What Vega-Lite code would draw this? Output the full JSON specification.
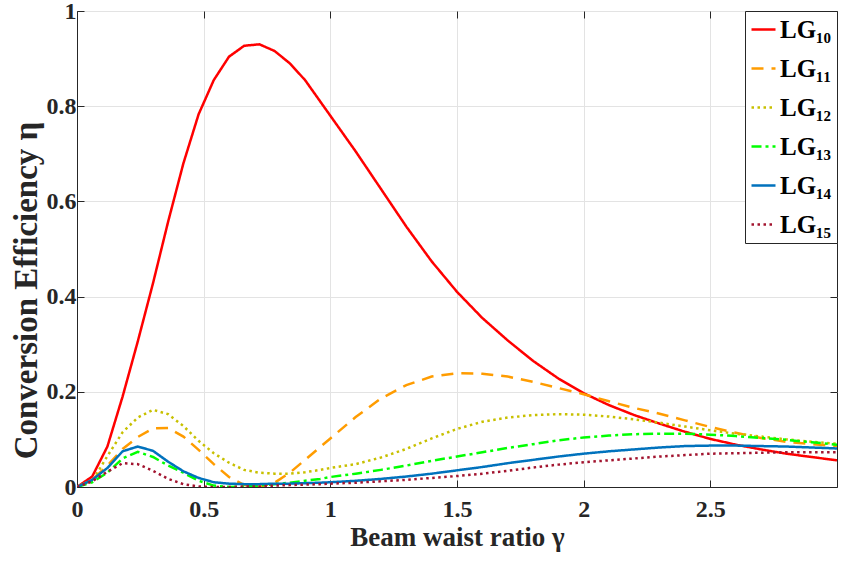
{
  "$schema": "https://vega.github.io/schema/vega-lite/v6.json",
  "width": 760,
  "height": 476,
  "autosize": {"type": "none"},
  "padding": {"left": 77, "top": 11, "right": 4, "bottom": 74},
  "background": "white",
  "config": {
    "font": "Liberation Serif",
    "view": {"stroke": "#262626", "strokeWidth": 1},
    "axis": {
      "labelFont": "Liberation Serif", "labelFontSize": 24, "labelFontWeight": "bold", "labelColor": "#262626",
      "titleFont": "Liberation Serif", "titleFontSize": 27, "titleFontWeight": "bold", "titleColor": "#262626",
      "domainColor": "#262626", "tickColor": "#262626", "tickSize": -7, "gridColor": "#e3e3e3", "gridWidth": 1
    },
    "legend": {
      "orient": "top-right", "offset": 0, "strokeColor": "#262626", "fillColor": "white", "padding": 5,
      "symbolType": "stroke", "symbolSize": 576, "symbolStrokeWidth": 2.5,
      "labelFont": "Liberation Serif", "labelFontSize": 25, "labelFontWeight": "bold", "labelColor": "#000000",
      "rowPadding": 12, "labelOffset": 3
    }
  },
  "data": {"values": [
    {"x":0,"s":"LG₁₀","y":0},{"x":0.06,"s":"LG₁₀","y":0.022},{"x":0.12,"s":"LG₁₀","y":0.085},{"x":0.18,"s":"LG₁₀","y":0.19},{"x":0.24,"s":"LG₁₀","y":0.306},{"x":0.3,"s":"LG₁₀","y":0.428},{"x":0.36,"s":"LG₁₀","y":0.558},{"x":0.42,"s":"LG₁₀","y":0.68},{"x":0.48,"s":"LG₁₀","y":0.783},{"x":0.54,"s":"LG₁₀","y":0.855},{"x":0.6,"s":"LG₁₀","y":0.904},{"x":0.66,"s":"LG₁₀","y":0.927},{"x":0.72,"s":"LG₁₀","y":0.93},{"x":0.78,"s":"LG₁₀","y":0.916},{"x":0.84,"s":"LG₁₀","y":0.89},{"x":0.9,"s":"LG₁₀","y":0.855},{"x":0.96,"s":"LG₁₀","y":0.81},{"x":1.0,"s":"LG₁₀","y":0.78},{"x":1.1,"s":"LG₁₀","y":0.705},{"x":1.2,"s":"LG₁₀","y":0.626},{"x":1.3,"s":"LG₁₀","y":0.547},{"x":1.4,"s":"LG₁₀","y":0.474},{"x":1.5,"s":"LG₁₀","y":0.41},{"x":1.6,"s":"LG₁₀","y":0.355},{"x":1.7,"s":"LG₁₀","y":0.308},{"x":1.8,"s":"LG₁₀","y":0.265},{"x":1.9,"s":"LG₁₀","y":0.228},{"x":2.0,"s":"LG₁₀","y":0.197},{"x":2.1,"s":"LG₁₀","y":0.172},{"x":2.2,"s":"LG₁₀","y":0.151},{"x":2.3,"s":"LG₁₀","y":0.133},{"x":2.4,"s":"LG₁₀","y":0.116},{"x":2.5,"s":"LG₁₀","y":0.101},{"x":2.6,"s":"LG₁₀","y":0.089},{"x":2.7,"s":"LG₁₀","y":0.079},{"x":2.8,"s":"LG₁₀","y":0.07},{"x":2.9,"s":"LG₁₀","y":0.063},{"x":3.0,"s":"LG₁₀","y":0.056},

    {"x":0,"s":"LG₁₁","y":0},{"x":0.06,"s":"LG₁₁","y":0.015},{"x":0.12,"s":"LG₁₁","y":0.045},{"x":0.18,"s":"LG₁₁","y":0.08},{"x":0.24,"s":"LG₁₁","y":0.105},{"x":0.3,"s":"LG₁₁","y":0.123},{"x":0.36,"s":"LG₁₁","y":0.124},{"x":0.42,"s":"LG₁₁","y":0.106},{"x":0.48,"s":"LG₁₁","y":0.078},{"x":0.54,"s":"LG₁₁","y":0.048},{"x":0.6,"s":"LG₁₁","y":0.021},{"x":0.66,"s":"LG₁₁","y":0.004},{"x":0.72,"s":"LG₁₁","y":0},{"x":0.78,"s":"LG₁₁","y":0.009},{"x":0.84,"s":"LG₁₁","y":0.03},{"x":0.9,"s":"LG₁₁","y":0.057},{"x":0.96,"s":"LG₁₁","y":0.084},{"x":1.0,"s":"LG₁₁","y":0.102},{"x":1.1,"s":"LG₁₁","y":0.147},{"x":1.2,"s":"LG₁₁","y":0.186},{"x":1.3,"s":"LG₁₁","y":0.214},{"x":1.4,"s":"LG₁₁","y":0.232},{"x":1.5,"s":"LG₁₁","y":0.239},{"x":1.6,"s":"LG₁₁","y":0.238},{"x":1.7,"s":"LG₁₁","y":0.232},{"x":1.8,"s":"LG₁₁","y":0.221},{"x":1.9,"s":"LG₁₁","y":0.208},{"x":2.0,"s":"LG₁₁","y":0.195},{"x":2.1,"s":"LG₁₁","y":0.18},{"x":2.2,"s":"LG₁₁","y":0.166},{"x":2.3,"s":"LG₁₁","y":0.154},{"x":2.4,"s":"LG₁₁","y":0.14},{"x":2.5,"s":"LG₁₁","y":0.126},{"x":2.6,"s":"LG₁₁","y":0.114},{"x":2.7,"s":"LG₁₁","y":0.103},{"x":2.8,"s":"LG₁₁","y":0.095},{"x":2.9,"s":"LG₁₁","y":0.09},{"x":3.0,"s":"LG₁₁","y":0.086},

    {"x":0,"s":"LG₁₂","y":0},{"x":0.06,"s":"LG₁₂","y":0.012},{"x":0.12,"s":"LG₁₂","y":0.065},{"x":0.18,"s":"LG₁₂","y":0.115},{"x":0.24,"s":"LG₁₂","y":0.146},{"x":0.3,"s":"LG₁₂","y":0.162},{"x":0.36,"s":"LG₁₂","y":0.153},{"x":0.42,"s":"LG₁₂","y":0.128},{"x":0.48,"s":"LG₁₂","y":0.097},{"x":0.54,"s":"LG₁₂","y":0.071},{"x":0.6,"s":"LG₁₂","y":0.051},{"x":0.66,"s":"LG₁₂","y":0.036},{"x":0.72,"s":"LG₁₂","y":0.03},{"x":0.78,"s":"LG₁₂","y":0.028},{"x":0.84,"s":"LG₁₂","y":0.028},{"x":0.9,"s":"LG₁₂","y":0.031},{"x":0.96,"s":"LG₁₂","y":0.036},{"x":1.0,"s":"LG₁₂","y":0.04},{"x":1.1,"s":"LG₁₂","y":0.048},{"x":1.2,"s":"LG₁₂","y":0.062},{"x":1.3,"s":"LG₁₂","y":0.08},{"x":1.4,"s":"LG₁₂","y":0.102},{"x":1.5,"s":"LG₁₂","y":0.122},{"x":1.6,"s":"LG₁₂","y":0.137},{"x":1.7,"s":"LG₁₂","y":0.146},{"x":1.8,"s":"LG₁₂","y":0.151},{"x":1.9,"s":"LG₁₂","y":0.153},{"x":2.0,"s":"LG₁₂","y":0.152},{"x":2.1,"s":"LG₁₂","y":0.148},{"x":2.2,"s":"LG₁₂","y":0.142},{"x":2.3,"s":"LG₁₂","y":0.135},{"x":2.4,"s":"LG₁₂","y":0.127},{"x":2.5,"s":"LG₁₂","y":0.119},{"x":2.6,"s":"LG₁₂","y":0.112},{"x":2.7,"s":"LG₁₂","y":0.106},{"x":2.8,"s":"LG₁₂","y":0.1},{"x":2.9,"s":"LG₁₂","y":0.095},{"x":3.0,"s":"LG₁₂","y":0.091},

    {"x":0,"s":"LG₁₃","y":0},{"x":0.06,"s":"LG₁₃","y":0.01},{"x":0.12,"s":"LG₁₃","y":0.03},{"x":0.18,"s":"LG₁₃","y":0.06},{"x":0.24,"s":"LG₁₃","y":0.074},{"x":0.3,"s":"LG₁₃","y":0.063},{"x":0.36,"s":"LG₁₃","y":0.045},{"x":0.42,"s":"LG₁₃","y":0.03},{"x":0.48,"s":"LG₁₃","y":0.013},{"x":0.54,"s":"LG₁₃","y":0.003},{"x":0.6,"s":"LG₁₃","y":0},{"x":0.66,"s":"LG₁₃","y":0.001},{"x":0.72,"s":"LG₁₃","y":0.003},{"x":0.78,"s":"LG₁₃","y":0.006},{"x":0.84,"s":"LG₁₃","y":0.009},{"x":0.9,"s":"LG₁₃","y":0.013},{"x":0.96,"s":"LG₁₃","y":0.017},{"x":1.0,"s":"LG₁₃","y":0.021},{"x":1.1,"s":"LG₁₃","y":0.028},{"x":1.2,"s":"LG₁₃","y":0.036},{"x":1.3,"s":"LG₁₃","y":0.045},{"x":1.4,"s":"LG₁₃","y":0.055},{"x":1.5,"s":"LG₁₃","y":0.064},{"x":1.6,"s":"LG₁₃","y":0.073},{"x":1.7,"s":"LG₁₃","y":0.082},{"x":1.8,"s":"LG₁₃","y":0.09},{"x":1.9,"s":"LG₁₃","y":0.098},{"x":2.0,"s":"LG₁₃","y":0.104},{"x":2.1,"s":"LG₁₃","y":0.108},{"x":2.2,"s":"LG₁₃","y":0.111},{"x":2.3,"s":"LG₁₃","y":0.112},{"x":2.4,"s":"LG₁₃","y":0.112},{"x":2.5,"s":"LG₁₃","y":0.11},{"x":2.6,"s":"LG₁₃","y":0.107},{"x":2.7,"s":"LG₁₃","y":0.103},{"x":2.8,"s":"LG₁₃","y":0.099},{"x":2.9,"s":"LG₁₃","y":0.094},{"x":3.0,"s":"LG₁₃","y":0.089},

    {"x":0,"s":"LG₁₄","y":0},{"x":0.06,"s":"LG₁₄","y":0.015},{"x":0.12,"s":"LG₁₄","y":0.04},{"x":0.18,"s":"LG₁₄","y":0.075},{"x":0.24,"s":"LG₁₄","y":0.085},{"x":0.3,"s":"LG₁₄","y":0.076},{"x":0.36,"s":"LG₁₄","y":0.053},{"x":0.42,"s":"LG₁₄","y":0.033},{"x":0.48,"s":"LG₁₄","y":0.019},{"x":0.54,"s":"LG₁₄","y":0.01},{"x":0.6,"s":"LG₁₄","y":0.007},{"x":0.66,"s":"LG₁₄","y":0.006},{"x":0.72,"s":"LG₁₄","y":0.006},{"x":0.78,"s":"LG₁₄","y":0.007},{"x":0.84,"s":"LG₁₄","y":0.007},{"x":0.9,"s":"LG₁₄","y":0.008},{"x":0.96,"s":"LG₁₄","y":0.009},{"x":1.0,"s":"LG₁₄","y":0.01},{"x":1.1,"s":"LG₁₄","y":0.013},{"x":1.2,"s":"LG₁₄","y":0.017},{"x":1.3,"s":"LG₁₄","y":0.022},{"x":1.4,"s":"LG₁₄","y":0.028},{"x":1.5,"s":"LG₁₄","y":0.035},{"x":1.6,"s":"LG₁₄","y":0.042},{"x":1.7,"s":"LG₁₄","y":0.05},{"x":1.8,"s":"LG₁₄","y":0.057},{"x":1.9,"s":"LG₁₄","y":0.064},{"x":2.0,"s":"LG₁₄","y":0.07},{"x":2.1,"s":"LG₁₄","y":0.075},{"x":2.2,"s":"LG₁₄","y":0.079},{"x":2.3,"s":"LG₁₄","y":0.083},{"x":2.4,"s":"LG₁₄","y":0.086},{"x":2.5,"s":"LG₁₄","y":0.087},{"x":2.6,"s":"LG₁₄","y":0.087},{"x":2.7,"s":"LG₁₄","y":0.086},{"x":2.8,"s":"LG₁₄","y":0.085},{"x":2.9,"s":"LG₁₄","y":0.083},{"x":3.0,"s":"LG₁₄","y":0.081},

    {"x":0,"s":"LG₁₅","y":0},{"x":0.06,"s":"LG₁₅","y":0.012},{"x":0.12,"s":"LG₁₅","y":0.032},{"x":0.18,"s":"LG₁₅","y":0.05},{"x":0.24,"s":"LG₁₅","y":0.048},{"x":0.3,"s":"LG₁₅","y":0.034},{"x":0.36,"s":"LG₁₅","y":0.017},{"x":0.42,"s":"LG₁₅","y":0.006},{"x":0.48,"s":"LG₁₅","y":0.001},{"x":0.54,"s":"LG₁₅","y":0},{"x":0.6,"s":"LG₁₅","y":0},{"x":0.66,"s":"LG₁₅","y":0.001},{"x":0.72,"s":"LG₁₅","y":0.001},{"x":0.78,"s":"LG₁₅","y":0.003},{"x":0.84,"s":"LG₁₅","y":0.004},{"x":0.9,"s":"LG₁₅","y":0.005},{"x":0.96,"s":"LG₁₅","y":0.006},{"x":1.0,"s":"LG₁₅","y":0.007},{"x":1.1,"s":"LG₁₅","y":0.009},{"x":1.2,"s":"LG₁₅","y":0.012},{"x":1.3,"s":"LG₁₅","y":0.015},{"x":1.4,"s":"LG₁₅","y":0.019},{"x":1.5,"s":"LG₁₅","y":0.023},{"x":1.6,"s":"LG₁₅","y":0.028},{"x":1.7,"s":"LG₁₅","y":0.034},{"x":1.8,"s":"LG₁₅","y":0.041},{"x":1.9,"s":"LG₁₅","y":0.047},{"x":2.0,"s":"LG₁₅","y":0.052},{"x":2.1,"s":"LG₁₅","y":0.056},{"x":2.2,"s":"LG₁₅","y":0.06},{"x":2.3,"s":"LG₁₅","y":0.064},{"x":2.4,"s":"LG₁₅","y":0.067},{"x":2.5,"s":"LG₁₅","y":0.07},{"x":2.6,"s":"LG₁₅","y":0.071},{"x":2.7,"s":"LG₁₅","y":0.072},{"x":2.8,"s":"LG₁₅","y":0.073},{"x":2.9,"s":"LG₁₅","y":0.073},{"x":3.0,"s":"LG₁₅","y":0.073}
  ]},
  "layer": [
    {
      "mark": {"type": "line", "strokeWidth": 2.5, "clip": true},
      "encoding": {
        "x": {"field": "x", "type": "quantitative", "scale": {"domain": [0, 3], "nice": false, "zero": false},
              "axis": {"values": [0, 0.5, 1, 1.5, 2, 2.5], "format": "~g", "grid": true, "labelPadding": 17, "titlePadding": 3, "labelFlush": false},
              "title": "Beam waist ratio γ"},
        "y": {"field": "y", "type": "quantitative", "scale": {"domain": [0, 1], "nice": false},
              "axis": {"values": [0, 0.2, 0.4, 0.6, 0.8, 1], "format": "~g", "grid": true, "labelPadding": 8, "titlePadding": 3, "labelFlush": false, "titleFontSize": 33, "titleY": 279},
              "title": "Conversion Efficiency η"},
        "color": {"field": "s", "type": "nominal", "title": null,
                  "scale": {"domain": ["LG₁₀","LG₁₁","LG₁₂","LG₁₃","LG₁₄","LG₁₅"],
                            "range": ["#ff0000","#ff9c00","#c8c000","#00ff00","#0072bd","#a2142f"]}},
        "strokeDash": {"field": "s", "type": "nominal", "title": null,
                  "scale": {"domain": ["LG₁₀","LG₁₁","LG₁₂","LG₁₃","LG₁₄","LG₁₅"],
                            "range": [[1,0],[12,8],[2.5,3.5],[10,4,3,4],[1,0],[2.5,3.5]]}}
      }
    },
    {
      "mark": {"type": "line", "opacity": 0},
      "encoding": {
        "x": {"field": "x", "type": "quantitative", "axis": {"orient": "top", "values": [0, 0.5, 1, 1.5, 2, 2.5], "labels": false, "grid": false, "domain": false, "title": null}},
        "y": {"field": "y", "type": "quantitative", "axis": {"orient": "right", "values": [0, 0.2, 0.4, 0.6, 0.8, 1], "labels": false, "grid": false, "domain": false, "title": null}}
      }
    }
  ],
  "resolve": {"axis": {"x": "independent", "y": "independent"}}
}
